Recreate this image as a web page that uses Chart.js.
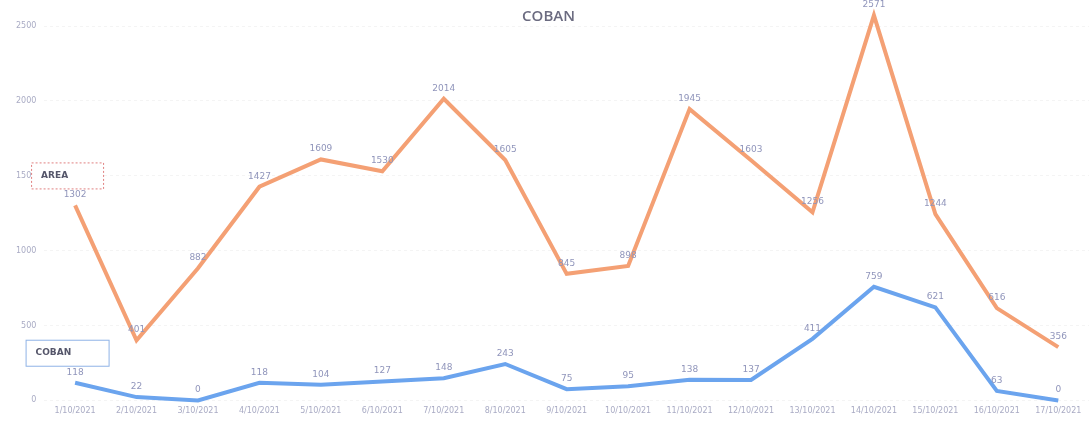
<!DOCTYPE html>
<html>
<head>
<meta charset="utf-8">
<title>COBAN</title>
<script src="https://cdn.jsdelivr.net/npm/chart.js@4.4.1/dist/chart.umd.min.js"></script>
<style>
    html, body { margin: 0; padding: 0; background: #ffffff; }
    #wrap { width: 1089px; height: 428px; position: relative; }
</style>
</head>
<body>
<div id="wrap"><canvas id="cobanChart"></canvas></div>
<script>
const fechas = ["1/10/2021", "2/10/2021", "3/10/2021", "4/10/2021", "5/10/2021", "6/10/2021",
    "7/10/2021", "8/10/2021", "9/10/2021", "10/10/2021", "11/10/2021", "12/10/2021",
    "13/10/2021", "14/10/2021", "15/10/2021", "16/10/2021", "17/10/2021"];
const areaValues = [1302, 401, 882, 1427, 1609, 1530, 2014, 1605, 845, 898, 1945, 1603, 1256, 2571, 1244, 616, 356];
const cobanValues = [118, 22, 0, 118, 104, 127, 148, 243, 75, 95, 138, 137, 411, 759, 621, 63, 0];
const yTicks = [0, 500, 1000, 1500, 2000, 2500];

// value labels above every point
const pointLabels = {
    id: "pointLabels",
    afterDatasetsDraw(chart) {
        const ctx = chart.ctx;
        ctx.save();
        ctx.font = "9px 'DejaVu Sans'";
        ctx.fillStyle = "#9095bb";
        ctx.textAlign = "center";
        ctx.textBaseline = "bottom";
        chart.data.datasets.forEach((ds, i) => {
            chart.getDatasetMeta(i).data.forEach((pt, j) => {
                ctx.fillText(ds.data[j], pt.x, pt.y - 6);
            });
        });
        ctx.restore();
    }
};

// series name boxes (like the excel callouts) next to the first point
const seriesBoxes = {
    id: "seriesBoxes",
    afterDatasetsDraw(chart) {
        const ctx = chart.ctx;
        ctx.save();
        chart.data.datasets.forEach((ds, i) => {
            const first = chart.getDatasetMeta(i).data[0];
            const w = ds.boxWidth, h = 26;
            const x = first.x - 8 - w / 2;
            const y = first.y - 17 - h;
            ctx.fillStyle = "#ffffff";
            ctx.fillRect(x, y, w, h);
            ctx.strokeStyle = ds.boxColor;
            ctx.lineWidth = 1;
            ctx.setLineDash(ds.boxDash);
            ctx.strokeRect(x + 0.5, y + 0.5, w, h);
            ctx.setLineDash([]);
            ctx.fillStyle = "#55566a";
            ctx.font = "600 9px 'DejaVu Sans'";
            ctx.textAlign = "left";
            ctx.textBaseline = "middle";
            ctx.fillText(ds.label, x + 10, y + h / 2);
        });
        ctx.restore();
    }
};

new Chart("cobanChart", {
    type: "line",
    data: {
        labels: fechas,
        datasets: [{
            label: "AREA",
            data: areaValues,
            borderColor: "#f4a074",
            borderWidth: 4,
            pointRadius: 0,
            tension: 0,
            boxWidth: 72,
            boxColor: "#e08080",
            boxDash: [2, 2]
        }, {
            label: "COBAN",
            data: cobanValues,
            borderColor: "#6ba4ee",
            borderWidth: 4,
            pointRadius: 0,
            tension: 0,
            boxWidth: 83,
            boxColor: "#8fb3e6",
            boxDash: []
        }]
    },
    options: {
        responsive: true,
        maintainAspectRatio: false,
        animation: false,
        clip: false,
        layout: { padding: { left: 8, right: 0, top: 0, bottom: 6 } },
        plugins: {
            legend: { display: false },
            tooltip: { enabled: false },
            title: {
                display: true,
                text: "COBAN",
                color: "#6b6b80",
                font: { family: "'Open Sans'", size: 15, weight: "600" },
                padding: { top: 8, bottom: 0 }
            }
        },
        scales: {
            x: {
                offset: true,
                grid: { display: false, drawTicks: false },
                border: { display: false },
                ticks: {
                    color: "#a9abc4",
                    font: { family: "'DejaVu Sans'", size: 8 },
                    maxRotation: 0,
                    autoSkip: false,
                    padding: 6
                }
            },
            y: {
                min: 0,
                max: 2500,
                afterBuildTicks: (axis) => { axis.ticks = yTicks.map(v => ({ value: v })); },
                grid: { color: "rgba(0,0,0,0.045)", drawTicks: false },
                border: { display: false, dash: [3, 3] },
                ticks: {
                    color: "#a9abc4",
                    font: { family: "'DejaVu Sans'", size: 8 },
                    padding: 8,
                    callback: (v) => String(v)
                }
            }
        }
    },
    plugins: [pointLabels, seriesBoxes]
});
</script>
</body>
</html>
